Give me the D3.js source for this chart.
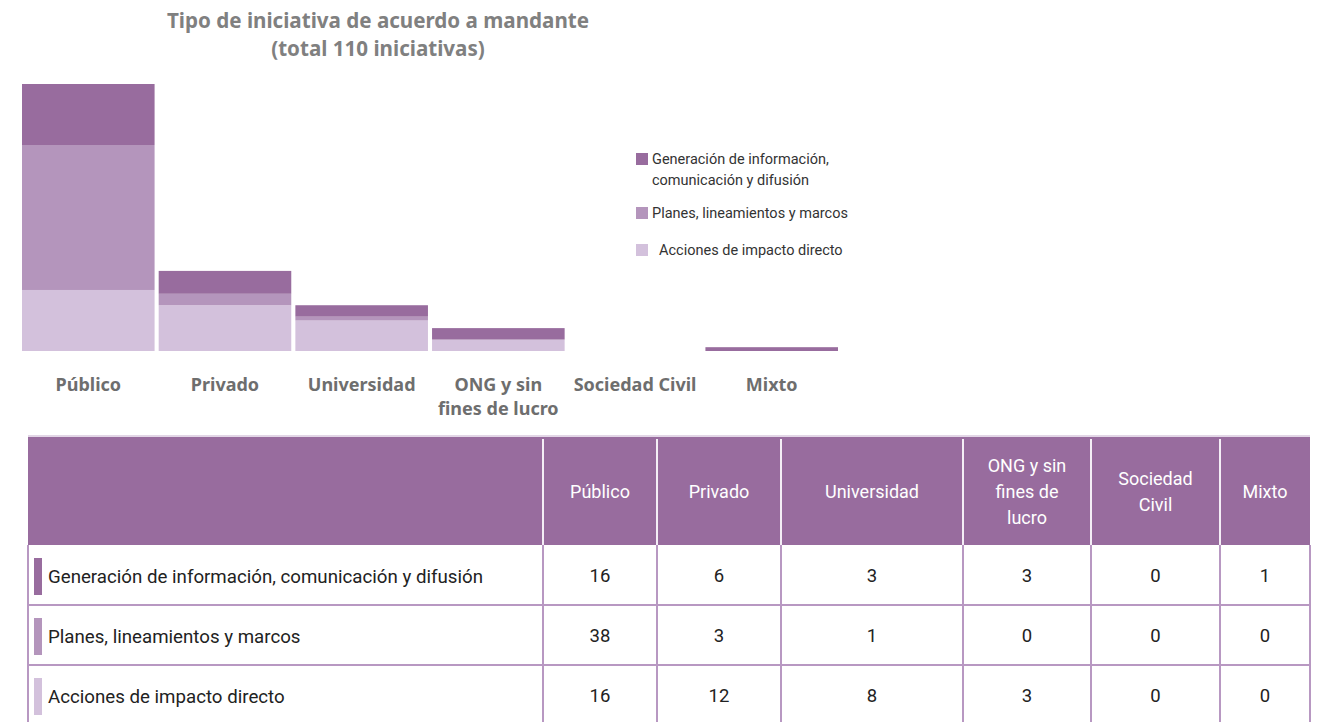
<!DOCTYPE html>
<html><head><meta charset="utf-8">
<script src="https://cdn.jsdelivr.net/npm/d3@7"></script>
<style>body{margin:0;background:#fff;} svg{display:block;}</style>
</head><body>
<svg id="c" width="1329" height="722"></svg>
<script>
const categories = ["Público","Privado","Universidad","ONG y sin fines de lucro","Sociedad Civil","Mixto"];
const catLines = [["Público"],["Privado"],["Universidad"],["ONG y sin","fines de lucro"],["Sociedad Civil"],["Mixto"]];
const headLines = [["Público"],["Privado"],["Universidad"],["ONG y sin","fines de","lucro"],["Sociedad","Civil"],["Mixto"]];
const seriesNames = ["Generación de información, comunicación y difusión","Planes, lineamientos y marcos","Acciones de impacto directo"];
const generacion = [16,6,3,3,0,1];
const planes = [38,3,1,0,0,0];
const acciones = [16,12,8,3,0,0];
const colors = ["#986c9e","#b495bc","#d3c1dc"];

const svg = d3.select("#c");
const font = "Roboto, 'Noto Sans', sans-serif";

// title
svg.append("text").attr("x",378).attr("y",28).attr("text-anchor","middle")
  .attr("font-family","'Noto Sans', sans-serif").attr("font-weight","bold").attr("font-size",20.6).attr("fill","#808080")
  .text("Tipo de iniciativa de acuerdo a mandante");
svg.append("text").attr("x",378).attr("y",56).attr("text-anchor","middle")
  .attr("font-family","'Noto Sans', sans-serif").attr("font-weight","bold").attr("font-size",20.6).attr("fill","#808080")
  .text("(total 110 iniciativas)");

// stacked bars
const rows = categories.map((c,i)=>({cat:c, acciones:acciones[i], planes:planes[i], generacion:generacion[i]}));
const keys = ["acciones","planes","generacion"];
const keyColor = {generacion:colors[0], planes:colors[1], acciones:colors[2]};
const stack = d3.stack().keys(keys)(rows);
const x = d3.scaleBand().domain(categories).range([22,838]).paddingInner(0.03).paddingOuter(0);
const total = d3.max(rows, r=>r.acciones+r.planes+r.generacion);
const y = d3.scaleLinear().domain([0,total]).range([351,84]);

svg.append("g").selectAll("g").data(stack).join("g").attr("fill",d=>keyColor[d.key])
  .selectAll("rect").data(d=>d.map(v=>({v, cat:v.data.cat}))).join("rect")
  .attr("x",d=>x(d.cat)).attr("width",x.bandwidth())
  .attr("y",d=>y(d.v[1])).attr("height",d=>Math.max(0,y(d.v[0])-y(d.v[1])));

// category labels
const cl = svg.append("g");
categories.forEach((c,i)=>{
  catLines[i].forEach((ln,j)=>{
    cl.append("text").attr("x",x(c)+x.bandwidth()/2).attr("y",391+j*24).attr("text-anchor","middle")
      .attr("font-family","'Noto Sans', sans-serif").attr("font-weight","bold").attr("font-size",18).attr("fill","#6e6e6e")
      .text(ln);
  });
});

// legend
const leg = [
  {c:colors[0], y:153, lines:["Generación de información,","comunicación y difusión"], tx:652},
  {c:colors[1], y:207, lines:["Planes, lineamientos y marcos"], tx:652},
  {c:colors[2], y:244, lines:["Acciones de impacto directo"], tx:659}
];
leg.forEach(l=>{
  svg.append("rect").attr("x",636).attr("y",l.y).attr("width",12).attr("height",12).attr("fill",l.c);
  l.lines.forEach((ln,j)=>{
    svg.append("text").attr("x",l.tx).attr("y",l.y+11+j*21).attr("font-family",font).attr("font-size",14.5).attr("fill","#333").text(ln);
  });
});

// table
const colX = [28,543,657,781,963,1091,1220,1310];
const headTop = 437, headBot = 545, rowH = 60;
const border = "#b898c2";
const tg = svg.append("g");
tg.append("rect").attr("x",colX[0]).attr("y",headTop).attr("width",colX[7]-colX[0]).attr("height",headBot-headTop).attr("fill","#986c9e");
tg.append("line").attr("x1",colX[0]).attr("x2",colX[7]).attr("y1",headTop-1).attr("y2",headTop-1).attr("stroke","#d8c8de").attr("stroke-width",1.5);
colX.slice(1,7).forEach(cx=>{
  tg.append("line").attr("x1",cx).attr("x2",cx).attr("y1",headTop+2).attr("y2",headBot).attr("stroke","#f4eef6").attr("stroke-width",2);
});
headLines.forEach((lines,i)=>{
  const cx=(colX[i+1]+colX[i+2])/2, n=lines.length;
  lines.forEach((ln,j)=>{
    tg.append("text").attr("x",cx).attr("y",492+(j-(n-1)/2)*26).attr("dy","0.35em").attr("text-anchor","middle")
      .attr("font-family",font).attr("font-size",18).attr("fill","#fff").text(ln);
  });
});
const tableData = [generacion, planes, acciones];
tableData.forEach((vals,r)=>{
  const top = headBot + r*rowH;
  const cy = top + rowH/2 + 1;
  tg.append("line").attr("x1",colX[0]).attr("x2",colX[7]).attr("y1",top+rowH).attr("y2",top+rowH).attr("stroke",border).attr("stroke-width",2);
  tg.append("rect").attr("x",34).attr("y",top+13).attr("width",8).attr("height",37).attr("fill",colors[r]);
  tg.append("text").attr("x",48).attr("y",cy).attr("dy","0.35em").attr("font-family",font).attr("font-size",18.7).attr("fill","#222").text(seriesNames[r]);
  vals.forEach((v,i)=>{
    tg.append("text").attr("x",(colX[i+1]+colX[i+2])/2).attr("y",cy).attr("dy","0.35em").attr("text-anchor","middle")
      .attr("font-family",font).attr("font-size",18.5).attr("fill","#222").text(v);
  });
});
colX.forEach(cx=>{
  tg.append("line").attr("x1",cx).attr("x2",cx).attr("y1",headBot).attr("y2",722).attr("stroke",border).attr("stroke-width",2);
});
</script>
</body></html>
